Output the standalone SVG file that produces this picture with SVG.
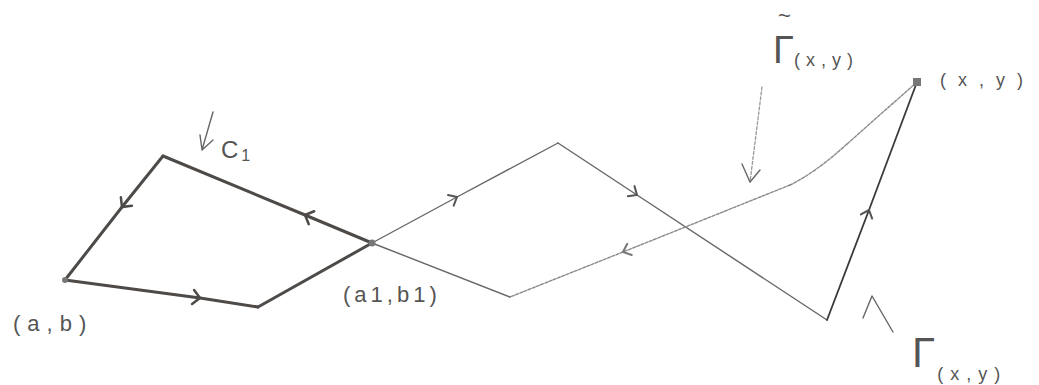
<svg xmlns="http://www.w3.org/2000/svg" width="1039" height="385" viewBox="0 0 1039 385">
<style>
.bold{fill:none;stroke:#4d4a48;stroke-width:3;stroke-linecap:round;stroke-linejoin:round}
.thin{fill:none;stroke:#666;stroke-width:1.4;stroke-linecap:round;stroke-linejoin:round}
.dark{fill:none;stroke:#3a3a3a;stroke-width:1.8;stroke-linecap:round}
.light{fill:none;stroke:#8a8a8a;stroke-width:1.4;stroke-dasharray:3 1.5;stroke-linecap:round}
.ptr{fill:none;stroke:#666;stroke-width:1.4;stroke-linecap:round;stroke-linejoin:round}
.ptrl{fill:none;stroke:#999;stroke-width:1.3;stroke-dasharray:3 2;stroke-linecap:round}
.lbl{font-family:"Liberation Sans","DejaVu Sans",sans-serif;fill:#555}
.dot{fill:#777}
</style>
<defs>
<marker id="cb" viewBox="-10 -10 20 20" markerWidth="20" markerHeight="20" markerUnits="userSpaceOnUse" refX="0" refY="0" orient="auto">
<path d="M-7 -7 L0 0 L-7 7" fill="none" stroke="#4d4a48" stroke-width="2.5" stroke-linecap="round"/>
</marker>
<marker id="ct" viewBox="-10 -10 20 20" markerWidth="20" markerHeight="20" markerUnits="userSpaceOnUse" refX="0" refY="0" orient="auto">
<path d="M-7 -6 L0 0 L-7 6" fill="none" stroke="#555" stroke-width="2" stroke-linecap="round"/>
</marker>
<marker id="cl" viewBox="-10 -10 20 20" markerWidth="20" markerHeight="20" markerUnits="userSpaceOnUse" refX="0" refY="0" orient="auto">
<path d="M-7 -6 L0 0 L-7 6" fill="none" stroke="#777" stroke-width="2" stroke-linecap="round"/>
</marker>
</defs>

<g id="connectors">
  <!-- C1 loop -->
  <path class="bold" d="M372 243 L305 215 L163 156" marker-mid="url(#cb)"/>
  <path class="bold" d="M163 156 L122 207 L65 280" marker-mid="url(#cb)"/>
  <path class="bold" d="M65 280 L200 298 L258 307" marker-mid="url(#cb)"/>
  <path class="bold" d="M258 307 L372 243"/>
  <!-- Gamma path -->
  <path class="thin" d="M372 243 L457 197 L558 143" marker-mid="url(#ct)"/>
  <path class="thin" d="M558 143 L637 195 L827 320" marker-mid="url(#ct)"/>
  <path class="dark" d="M827 320 L869 210 L917 82" marker-mid="url(#ct)"/>
  <!-- Gamma tilde path -->
  <path class="light" d="M917 82 L847 144" marker-mid="url(#cl)"/>
  <path class="light" d="M847 144 Q815 173 790 185"/>
  <path class="light" d="M790 185 L623 252 L510 297" marker-mid="url(#cl)"/>
  <path class="thin" d="M510 297 L372 243"/>
  <!-- label pointers -->
  <path class="ptr" d="M213 112 L202 150 M200 135 L202 150 L213 140"/>
  <path class="ptrl" d="M762 87 L750 182"/>
  <path class="ptr" d="M742 164 L750 182 L760 170" stroke="#888"/>
  <path class="ptr" d="M863 318 L872 296 L893 332"/>
</g>

<g id="node-ab">
  <circle class="dot" cx="65" cy="280" r="3"/>
  <text class="lbl" x="13" y="331" font-size="22" letter-spacing="7">(a,b)</text>
</g>
<g id="node-a1b1">
  <circle class="dot" cx="372" cy="243" r="3.5"/>
  <text class="lbl" x="343" y="302" font-size="22" letter-spacing="4">(a1,b1)</text>
</g>
<g id="node-xy">
  <rect class="dot" x="913" y="78" width="8" height="8"/>
  <text class="lbl" x="940" y="86" font-size="18" letter-spacing="12">(x,y)</text>
</g>
<g id="label-c1">
  <text class="lbl" x="221" y="158" font-size="24">C<tspan font-size="16" dy="3" dx="3">1</tspan></text>
</g>
<g id="label-gamma-tilde">
  <text class="lbl"><tspan x="778" y="23" font-size="22">~</tspan><tspan x="773" y="63" font-size="38">Γ</tspan><tspan font-size="18" dy="3" letter-spacing="6">(x,y)</tspan></text>
</g>
<g id="label-gamma">
  <text class="lbl" x="912" y="367"><tspan font-size="42">Γ</tspan><tspan font-size="18" dy="13" dx="2" letter-spacing="7">(x,y)</tspan></text>
</g>
</svg>
